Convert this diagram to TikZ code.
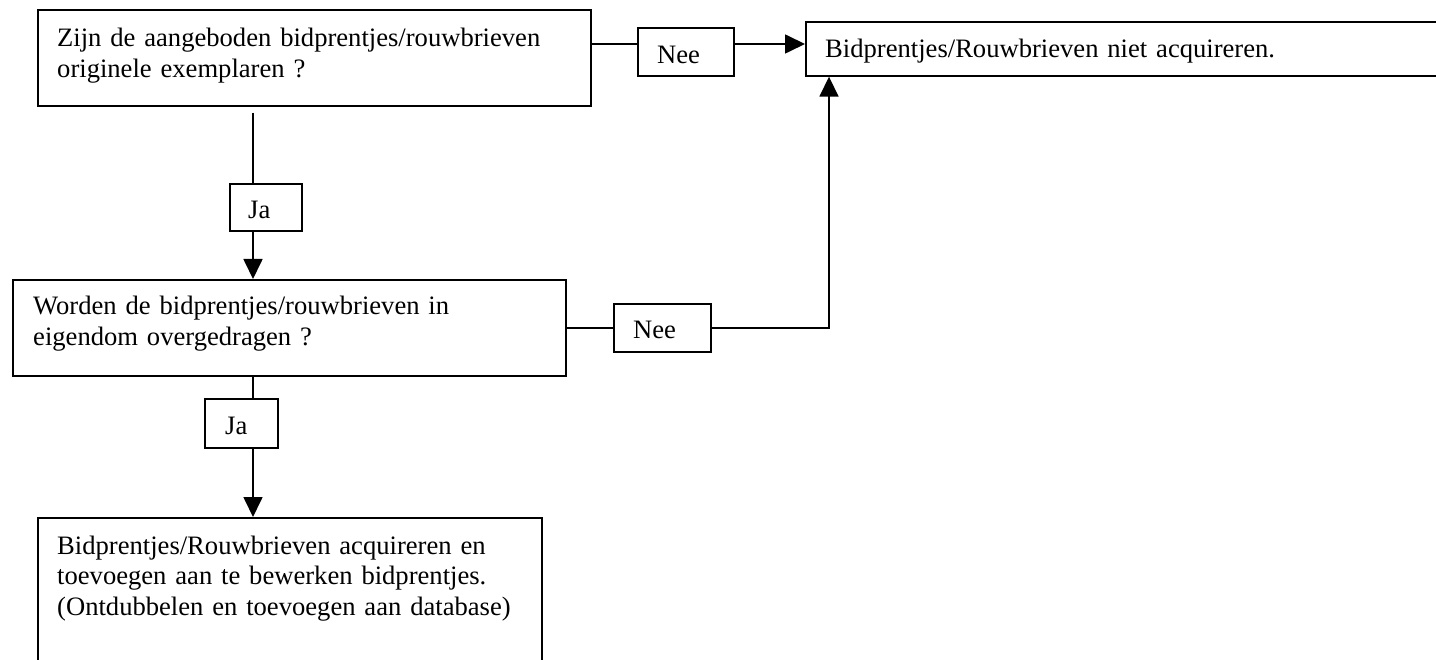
\documentclass[tikz,border=0pt]{standalone}
\usepackage{fontspec}
\setmainfont{Liberation Serif}
\usetikzlibrary{arrows.meta,calc}

\tikzset{
  box/.style={draw=black, line width=1.7pt, rectangle, inner sep=0pt, anchor=north west},
  txt/.style={inner sep=0pt, anchor=base west, align=left, text width=560pt,
              font=\fontsize{26.6}{30.7}\selectfont},
  link/.style={draw=black, line width=1.7pt},
  arr/.style={link, -{Triangle[length=20pt,width=19pt]}}
}

\begin{document}
\begin{tikzpicture}[x=1pt, y=-1pt]
  \clip (0,0) rectangle (1436,660);
  \fill[white] (0,0) rectangle (1436,660);

  % guide positions for the connectors
  \coordinate (trunk) at (253,0);
  \coordinate (riser) at (829,0);
  \coordinate (row1)  at (0,44);

  % question and outcome boxes
  \node[box, minimum width=553pt, minimum height=96pt] (q1) at (37,9) {};
  \node[box, minimum width=660pt, minimum height=54pt] (out1) at (805,21) {};
  \node[box, minimum width=553pt, minimum height=96pt] (q2) at (12,279) {};
  \node[box, minimum width=504pt, minimum height=170pt] (out2) at (37,517) {};

  % answer labels
  \node[box, minimum width=96pt, minimum height=48pt] (nee1) at (637,27) {};
  \node[box, minimum width=97pt, minimum height=48pt] (nee2) at (613,303) {};
  \node[box, minimum width=72pt, minimum height=47pt] (ja1) at (229,183) {};
  \node[box, minimum width=73pt, minimum height=49pt] (ja2) at (204,398) {};

  % texts
  \node[txt] (q1t) at ([xshift=20pt,yshift=-38pt]q1.north west)
    {Zijn de aangeboden bidprentjes/rouwbrieven\\originele exemplaren ?};
  \node[txt] (out1t) at ([xshift=20pt,yshift=-37pt]out1.north west)
    {Bidprentjes/Rouwbrieven niet acquireren.};
  \node[txt] (q2t) at ([xshift=21pt,yshift=-36pt]q2.north west)
    {Worden de bidprentjes/rouwbrieven in\\eigendom overgedragen ?};
  \node[txt] (out2t) at ([xshift=20pt,yshift=-37pt]out2.north west)
    {Bidprentjes/Rouwbrieven acquireren en\\toevoegen aan te bewerken bidprentjes.\\(Ontdubbelen en toevoegen aan database)};
  \node[txt] (nee1t) at ([xshift=20pt,yshift=-37pt]nee1.north west) {Nee};
  \node[txt] (nee2t) at ([xshift=20pt,yshift=-36pt]nee2.north west) {Nee};
  \node[txt] (ja1t) at ([xshift=19pt,yshift=-36pt]ja1.north west) {Ja};
  \node[txt] (ja2t) at ([xshift=21pt,yshift=-37pt]ja2.north west) {Ja};

  % first question: Nee
  \draw[link] (q1.east |- row1) -- (nee1.west |- row1);
  \draw[arr] (nee1.east |- row1) -- (out1.west |- row1);

  % first question: Ja
  \draw[link] ([yshift=-6pt]trunk |- q1.south) -- (trunk |- ja1.north);
  \draw[arr] (trunk |- ja1.south) -- (trunk |- q2.north);

  % second question: Nee
  \draw[link] (q2.east) -- (nee2.west);
  \draw[arr] (nee2.east) -| (riser |- out1.south);

  % second question: Ja
  \draw[link] (trunk |- q2.south) -- (trunk |- ja2.north);
  \draw[arr] (trunk |- ja2.south) -- (trunk |- out2.north);
\end{tikzpicture}
\end{document}
